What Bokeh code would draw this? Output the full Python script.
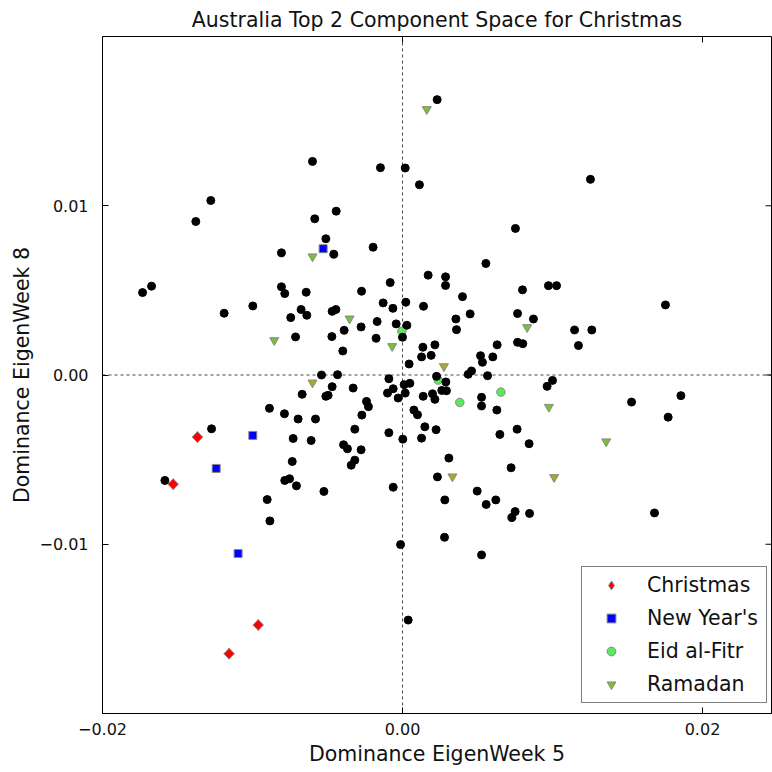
from bokeh.plotting import figure
from bokeh.models import (Range1d, FixedTicker, Span, Legend, LegendItem)
from bokeh.embed import file_html
from bokeh.resources import INLINE
import math

# ---------------- data ----------------
other_x = [-0.0060, -0.01278, -0.01378, -0.00585, -0.00511, -0.00807,
           0.00231, -0.00147, 0.00018, 0.00113, -0.00442, -0.00458, -0.00196, 0.00753, 0.00556,
           0.01253,
           -0.01733, -0.01673, -0.01189, -0.00998, -0.00807, -0.00785, -0.00642, -0.00676,
           -0.00638, -0.00745, -0.00713, -0.00540, -0.00669, -0.00511, -0.00887, -0.00787,
           -0.00696, -0.00580, -0.01273, -0.00729, -0.00609, -0.00735, -0.00785, -0.00753,
           -0.00707, -0.01584,
           -0.00902, -0.00884, -0.00524,
           -0.00062, 0.00282, 0.00498, 0.00558, 0.00622, 0.00751, 0.00729, 0.00847,
           -0.00013, 0.00280, 0.00527, 0.00038,
           0.01680,
           0.00973, 0.01027, 0.01753, 0.01147, 0.01262, 0.01173, 0.01000, 0.00964,
           0.01527, 0.01856, 0.01771,
           0.00171, 0.00287, 0.00287, -0.00082, -0.00273, 0.00800, 0.00400, -0.00129,
           0.00022, -0.00064, 0.00140, -0.00469, -0.00444, 0.00451, 0.00356, 0.00360,
           0.00767, 0.00873, -0.00276, -0.00389, -0.00169, -0.00042, 0.00029, 0.00000,
           -0.00471, -0.00176, -0.00398, 0.00136, 0.00216, 0.00127, 0.00191, 0.00631,
           0.00767, 0.00802, 0.00520, 0.00533, 0.00602, 0.00044, 0.00460, 0.00438,
           0.00567, -0.00433, 0.00227, 0.00289, -0.00091, 0.00011, 0.00049, 0.00018,
           -0.00062, -0.00100, -0.00029, -0.00469, -0.00496, -0.00329, 0.00262, 0.00293,
           0.00138, 0.00200, 0.00216, 0.00527, 0.00527, 0.00629, -0.00240, -0.00227,
           -0.00271, 0.00076, 0.00100, -0.00318, -0.00091, 0.00149, 0.00224, 0.00127,
           0.00002, 0.00649, 0.00764, 0.00844, -0.00393, -0.00367, -0.00276, -0.00318,
           -0.00342, 0.00309, 0.00724, 0.00233]
other_y = [0.01262, 0.01031, 0.00907, 0.00923, 0.00805, 0.00722,
           0.01627, 0.01225, 0.01223, 0.01124, 0.00968, 0.00714, 0.00755, 0.00866, 0.00659,
           0.01156,
           0.00487, 0.00525, 0.00365, 0.00408, 0.00521, 0.00481, 0.00489, 0.00387,
           0.00353, 0.00339, 0.00225, 0.00000, -0.00114, -0.00126, -0.00197, -0.00229,
           -0.00260, -0.00260, -0.00318, -0.00375, -0.00387, -0.00511, -0.00623, -0.00613,
           -0.00655, -0.00623,
           -0.00736, -0.00862, -0.00688,
           -0.00663, -0.00738, -0.00686, -0.00765, -0.00738, -0.00807, -0.00842, -0.00818,
           -0.01002, -0.00959, -0.01063, -0.01448,
           -0.00815,
           0.00528, 0.00528, 0.00414, 0.00266, 0.00266, 0.00174, -0.00032, -0.00067,
           -0.00160, -0.00122, -0.00249,
           0.00590, 0.00580, 0.00529, 0.00546, 0.00495, 0.00503, 0.00463, 0.00426,
           0.00430, 0.00394, 0.00406, 0.00376, 0.00387, 0.00361, 0.00331, 0.00268,
           0.00363, 0.00331, 0.00284, 0.00264, 0.00316, 0.00302, 0.00294, 0.00223,
           0.00227, 0.00217, 0.00142, 0.00164, 0.00178, 0.00107, 0.00116, 0.00178,
           0.00193, 0.00185, 0.00114, 0.00075, 0.00107, 0.00065, 0.00024, 0.00004,
           -0.00004, 0.00002, -0.00008, -0.00041, -0.00022, -0.00057, -0.00049, -0.00107,
           -0.00081, -0.00107, -0.00136, -0.00069, -0.00120, -0.00077, -0.00091, -0.00093,
           -0.00126, -0.00111, -0.00144, -0.00132, -0.00183, -0.00207, -0.00156, -0.00187,
           -0.00237, -0.00207, -0.00235, -0.00320, -0.00341, -0.00306, -0.00323, -0.00373,
           -0.00379, -0.00351, -0.00320, -0.00406, -0.00412, -0.00436, -0.00442, -0.00503,
           -0.00533, -0.00491, -0.00548, -0.00602]

christmas_x = [-0.01367, -0.01529, -0.00962, -0.01156]
christmas_y = [-0.00367, -0.00645, -0.01477, -0.01647]

newyear_x = [-0.00529, -0.00998, -0.01242, -0.01096]
newyear_y = [0.00746, -0.00357, -0.00552, -0.01055]

eid_x = [-0.00004, 0.00238, 0.00382, 0.00656]
eid_y = [0.00258, -0.00030, -0.00162, -0.00101]

ramadan_x = [0.00162, -0.00600, -0.00855, -0.00353, -0.00069, 0.00831, 0.00976, 0.01358]
ramadan_y = [0.01570, 0.00700, 0.00205, 0.00333, 0.00170, 0.00282, -0.00189, -0.00393]
ramadan_late_x = [-0.00600, 0.00276, 0.00333, 0.01011]
ramadan_late_y = [-0.00045, 0.00051, -0.00600, -0.00604]

x_ticks = [-0.02, 0.0, 0.02]
x_tick_labels = ["\u22120.02", "0.00", "0.02"]
y_ticks = [-0.01, 0.0, 0.01]
y_tick_labels = ["\u22120.01", "0.00", "0.01"]

X_START, X_END = -0.02, 0.0246
Y_START, Y_END = -0.02, 0.02

FONT = "DejaVu Sans"
W, H = 772, 772
BL, BR, BT, BB = 102, 1, 36, 59
FRAME_W = W - BL - BR
FRAME_H = H - BT - BB

p = figure(width=W, height=H,
           x_range=Range1d(X_START, X_END), y_range=Range1d(Y_START, Y_END),
           output_backend="svg", toolbar_location=None,
           min_border_left=BL, min_border_right=BR, min_border_top=BT, min_border_bottom=BB,
           title="Australia Top 2 Component Space for Christmas",
           x_axis_label="Dominance EigenWeek 5", y_axis_label="Dominance EigenWeek 8")

p.title.text_font = FONT
p.title.text_font_size = "20.5px"
p.title.text_font_style = "normal"
p.title.align = "center"
p.title.text_color = "#111111"
p.title.standoff = 10

p.xgrid.visible = False
p.ygrid.visible = False
p.outline_line_color = "black"
p.outline_line_width = 1
p.background_fill_color = "white"
p.border_fill_color = "white"


def style_axis(ax, ticks, labels):
    ax.ticker = FixedTicker(ticks=ticks)
    ax.major_label_overrides = {t: l for t, l in zip(ticks, labels)}
    ax.major_tick_in = 6
    ax.major_tick_out = 0
    ax.minor_tick_in = 0
    ax.minor_tick_out = 0
    ax.major_tick_line_color = "black"
    ax.axis_line_color = "black"
    ax.major_label_text_font = FONT
    ax.major_label_text_font_size = "16px"
    ax.major_label_text_color = "#111111"
    ax.axis_label_text_font = FONT
    ax.axis_label_text_font_size = "20.5px"
    ax.axis_label_text_font_style = "normal"
    ax.axis_label_text_color = "#111111"


style_axis(p.xaxis[0], x_ticks, x_tick_labels)
style_axis(p.yaxis[0], y_ticks, y_tick_labels)
p.xaxis[0].major_label_standoff = 9
p.xaxis[0].axis_label_standoff = 4
p.yaxis[0].major_label_standoff = 14
p.yaxis[0].axis_label_standoff = 2

# inward ticks on the top and right spines
tick_dx = 6 * (X_END - X_START) / FRAME_W
tick_dy = 6 * (Y_END - Y_START) / FRAME_H
p.segment(x0=x_ticks, y0=[Y_END] * len(x_ticks), x1=x_ticks,
          y1=[Y_END - tick_dy] * len(x_ticks), line_color="black", line_width=1)
p.segment(x0=[X_END] * len(y_ticks), y0=y_ticks, x1=[X_END - tick_dx] * len(y_ticks),
          y1=y_ticks, line_color="black", line_width=1)

p.add_layout(Span(location=0, dimension="height", line_color="#444444",
                  line_dash="3 3", line_width=1, level="underlay"))
p.add_layout(Span(location=0, dimension="width", line_color="#444444",
                  line_dash="3 3", line_width=1, level="underlay"))

EDGE = "#888888"
# narrow diamond underneath (used for the legend), rotated square on top
r_chr_leg = p.scatter(christmas_x, christmas_y, marker="diamond", size=11,
                      fill_color="#ff0000", line_color=EDGE, line_width=1)
r_chr = p.scatter(christmas_x, christmas_y, marker="square", angle=math.pi / 4, size=7.5,
                  fill_color="#ff0000", line_color=EDGE, line_width=1)
r_ny = p.scatter(newyear_x, newyear_y, marker="square", size=8,
                 fill_color="#0000ff", line_color=EDGE, line_width=1)
r_eid = p.scatter(eid_x, eid_y, marker="circle", size=8.5,
                  fill_color="#5de85d", line_color=EDGE, line_width=1)
r_ram = p.scatter(ramadan_x, ramadan_y, marker="inverted_triangle", size=9,
                  fill_color="#77c236", line_color=EDGE, line_width=1)
r_ram2 = p.scatter(ramadan_late_x, ramadan_late_y, marker="inverted_triangle", size=9,
                   fill_color="#aaaa22", line_color=EDGE, line_width=1)
r_oth = p.scatter(other_x, other_y, marker="circle", size=8,
                  fill_color="black", line_color="black")

legend = Legend(items=[
    LegendItem(label="Christmas", renderers=[r_chr_leg]),
    LegendItem(label="New Year's", renderers=[r_ny]),
    LegendItem(label="Eid al-Fitr", renderers=[r_eid]),
    LegendItem(label="Ramadan", renderers=[r_ram]),
], location=(479, 10))
legend.label_text_font = FONT
legend.label_text_font_size = "20.5px"
legend.label_text_color = "#111111"
legend.glyph_width = 46
legend.glyph_height = 22
legend.label_height = 22
legend.label_width = 113
legend.label_standoff = 13
legend.spacing = 9
legend.padding = 6
legend.margin = 0
legend.border_line_color = "black"
legend.border_line_width = 1
legend.background_fill_color = "white"
legend.background_fill_alpha = 1
p.add_layout(legend, "center")

open("out.html", "w").write(file_html(p, INLINE))
